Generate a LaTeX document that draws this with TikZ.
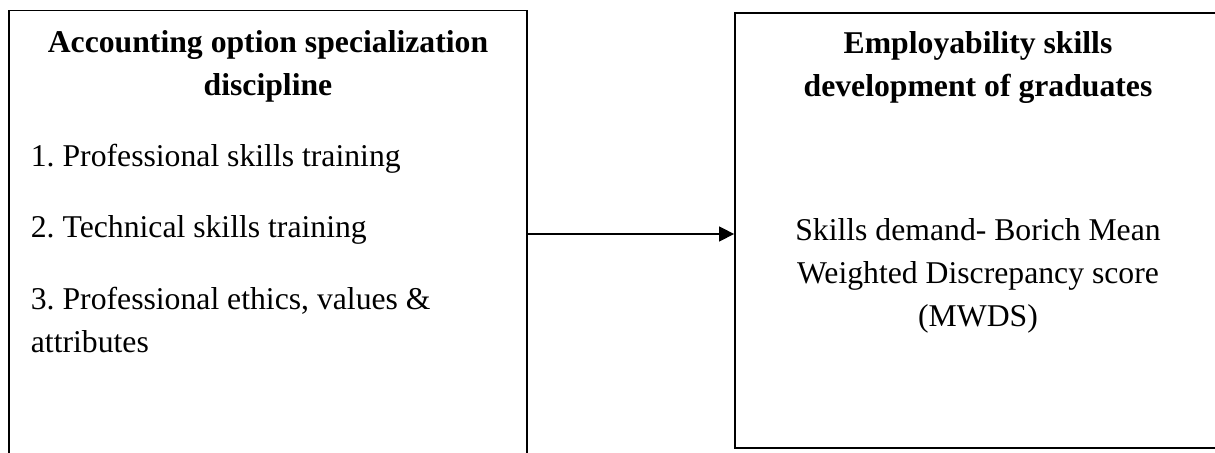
\documentclass[tikz,border=0pt]{standalone}
\usepackage{fontspec}
\setmainfont{Liberation Serif}
\usetikzlibrary{arrows.meta}
\frenchspacing
\tikzset{
  box/.style={draw, line width=0.9pt, inner sep=0pt},
  head/.style={font=\fontsize{15.85}{21.5}\selectfont\bfseries, align=center, anchor=base, inner sep=0pt},
  body/.style={font=\fontsize{15.85}{21.5}\selectfont, align=center, anchor=base, inner sep=0pt},
  item/.style={font=\fontsize{15.85}{21.5}\selectfont, align=left, anchor=base west, inner sep=0pt},
  link/.style={-{Triangle[length=7.5pt,width=7.5pt]}, line width=0.7pt}
}
\begin{document}
\begin{tikzpicture}[x=0.5pt,y=-0.5pt]
\useasboundingbox (0,0) rectangle (1215,453);
\node[box, minimum width=259pt, minimum height=234.7pt] (course) at (268,245.3) {};
\node[box, minimum width=243pt, minimum height=217.7pt] (skills) at (978,230.4) {};
\node[head] (coursehead) at (268,96) {Accounting option specialization\\discipline};
\node[item] (itemone) at (30.5,166.7) {1. Professional skills training};
\node[item] (itemtwo) at (30.5,237.3) {2. Technical skills training};
\node[item] (itemthree) at (30.5,352.7) {3. Professional ethics, values \&\\attributes};
\node[head] (skillshead) at (978,97) {Employability skills\\development of graduates};
\node[body] (mwds) at (978,326.7) {Skills demand- Borich Mean\\Weighted Discrepancy score\\(MWDS)};
\draw[link] ([yshift=-1.8pt]skills.west -| course.east) -- ([yshift=-1.8pt]skills.west);
\end{tikzpicture}
\end{document}
